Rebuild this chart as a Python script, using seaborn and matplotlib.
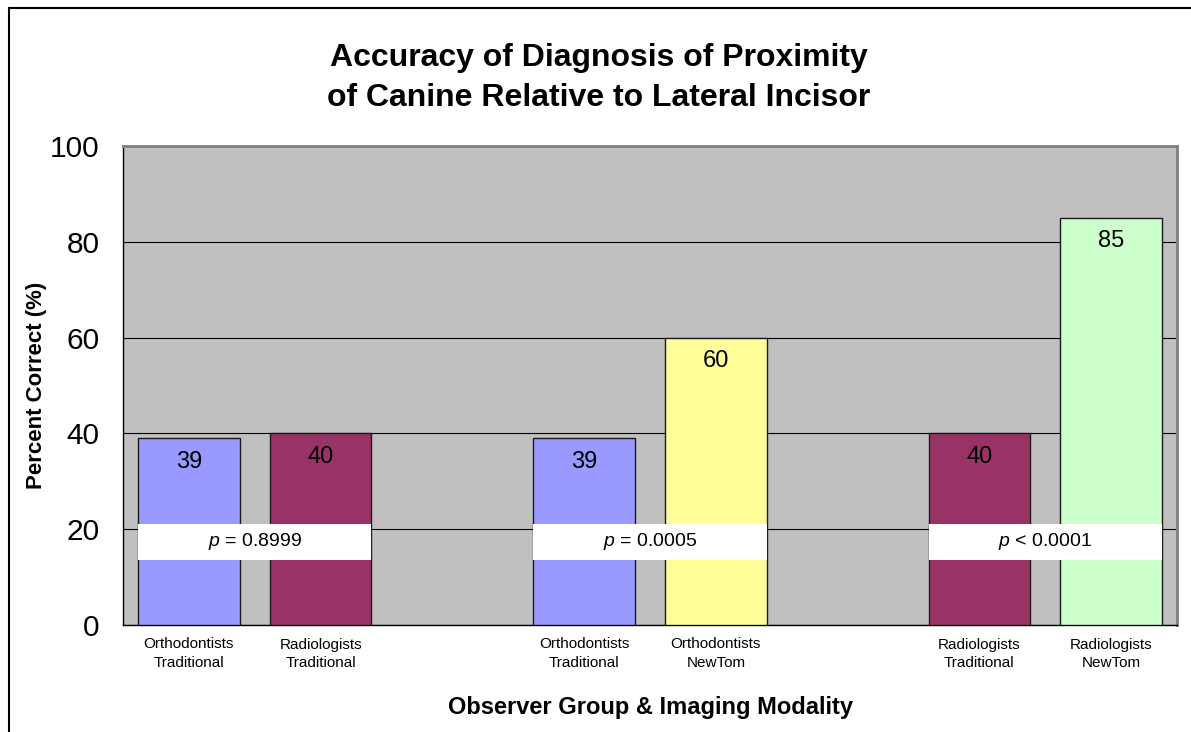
"""
plot.py
Accuracy of diagnosis bar chart (Excel style) redrawn with seaborn
"""

import numpy as np
import pandas as pd
import matplotlib
matplotlib.use("Agg")
import matplotlib.pyplot as plt
from matplotlib.patches import Rectangle
from matplotlib.lines import Line2D
import seaborn as sns

# chart data ("" / nan marks an empty gap slot)
slot_labels = ["Orthodontists\nTraditional", "Radiologists\nTraditional", "",
               "Orthodontists\nTraditional", "Orthodontists\nNewTom", "",
               "Radiologists\nTraditional", "Radiologists\nNewTom"]
slot_groups = ["ortho_trad", "radio_trad", None,
               "ortho_trad", "ortho_newtom", None,
               "radio_trad", "radio_newtom"]
percent_correct = [39, 40, np.nan, 39, 60, np.nan, 40, 85]

group_colors = {"ortho_trad": "#9999FF", "radio_trad": "#993366",
                "ortho_newtom": "#FFFF99", "radio_newtom": "#CCFFCC"}

# p-value comparisons between slot pairs
pairs = [(0, 1), (3, 4), (6, 7)]
p_texts = [r"$\mathit{p}$ = 0.8999", r"$\mathit{p}$ = 0.0005", r"$\mathit{p}$ < 0.0001"]
p_box_range = (13.6, 21.1)

title = "Accuracy of Diagnosis of Proximity\nof Canine Relative to Lateral Incisor"
y_label = "Percent Correct (%)"
x_label = "Observer Group & Imaging Modality"


def main():
    sns.set_style("white")
    plt.rcParams["font.family"] = ["Liberation Sans", "DejaVu Sans"]
    plt.rcParams["mathtext.fontset"] = "custom"
    plt.rcParams["mathtext.rm"] = "Liberation Sans"
    plt.rcParams["mathtext.it"] = "Liberation Sans:italic"
    for key in ["text.color", "axes.labelcolor", "xtick.color", "ytick.color"]:
        plt.rcParams[key] = "black"

    df = pd.DataFrame({"slot": np.arange(len(slot_labels)),
                       "group": slot_groups,
                       "value": percent_correct}).dropna()

    fig = plt.figure(figsize=(11.91, 7.32), dpi=100)
    ax = fig.add_axes([123 / 1191, 1 - 625 / 732, (1177 - 123) / 1191, (625 - 146) / 732])
    ax.set_facecolor("#C0C0C0")

    bar_width = 0.77
    sns.barplot(data=df, x="slot", y="value", hue="group", palette=group_colors,
                native_scale=True, dodge=False, width=bar_width, legend=False,
                edgecolor="#1a1a1a", linewidth=1.0, saturation=1, ax=ax, zorder=3)

    ax.set_xlim(-0.5, len(slot_labels) - 0.5)
    ax.set_ylim(0, 100)
    ax.set_yticks(np.arange(0, 101, 20))
    ax.yaxis.grid(True, color="black", linewidth=0.8, zorder=1)
    ax.set_axisbelow(True)
    ax.tick_params(axis="y", labelsize=21.5, length=12, width=1, direction="out", pad=5)

    # category boundaries as ticks, labels centred in each slot
    ax.set_xticks(np.arange(len(slot_labels) + 1) - 0.5)
    ax.set_xticklabels([])
    ax.tick_params(axis="x", which="major", length=6, width=1, direction="out")
    ax.set_xticks(np.arange(len(slot_labels)), minor=True)
    ax.set_xticklabels(slot_labels, minor=True, fontsize=11, linespacing=1.45)
    ax.tick_params(axis="x", which="minor", length=0, pad=9)

    # value labels inside bar tops
    for slot, val in zip(df["slot"], df["value"]):
        ax.annotate(f"{val:g}", (slot, val), xytext=(0, -9), textcoords="offset points",
                    ha="center", va="top", fontsize=17, zorder=5)

    # p-value white boxes spanning each pair
    for (a, b), txt in zip(pairs, p_texts):
        x0 = a - bar_width / 2
        x1 = b + bar_width / 2
        ax.add_patch(Rectangle((x0, p_box_range[0]), x1 - x0, p_box_range[1] - p_box_range[0],
                               facecolor="white", edgecolor="none", zorder=4))
        ax.text((x0 + x1) / 2, sum(p_box_range) / 2, txt, ha="center", va="center",
                fontsize=14, zorder=5)

    for side in ["left", "bottom"]:
        ax.spines[side].set_color("black")
        ax.spines[side].set_linewidth(1)
    for side in ["top", "right"]:
        ax.spines[side].set_color("#808080")
        ax.spines[side].set_linewidth(2)

    ax.set_xlabel(x_label, fontsize=17, fontweight="bold", va="center")
    ax.xaxis.set_label_coords(0.5, -0.172)
    ax.set_ylabel(y_label, fontsize=16, fontweight="bold", va="center")
    ax.yaxis.set_label_coords(-0.082, 0.5)
    fig.text(0.503, 1 - 78 / 732, title, ha="center", va="center",
             fontsize=23, fontweight="bold", linespacing=1.45)

    # outer chart frame (top and left edges visible)
    fig.add_artist(Line2D([9 / 1191, 1], [1 - 8 / 732, 1 - 8 / 732], color="black", lw=1.5))
    fig.add_artist(Line2D([9 / 1191, 9 / 1191], [0, 1 - 8 / 732], color="black", lw=1.5))

    fig.savefig("out.png", dpi=100)


if __name__ == "__main__":
    main()
